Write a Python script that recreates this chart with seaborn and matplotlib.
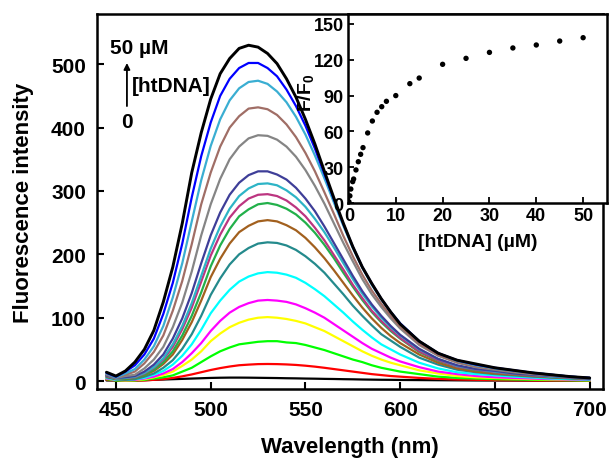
import pandas as pd
import matplotlib
matplotlib.use('Agg')
import matplotlib.pyplot as plt
import seaborn as sns

# emission wavelengths (nm) shared by all spectra
wavelength = [445, 450, 455, 460, 465, 470, 475, 480, 485, 490, 495, 500, 505, 510,
              515, 520, 525, 530, 535, 540, 545, 550, 555, 560, 565, 570, 575, 580,
              585, 590, 595, 600, 610, 620, 630, 640, 650, 660, 670, 680, 690, 700]

# spectra, from 50 uM htDNA (top) down to free dye
spec_50 = [14, 8, 16, 30, 50, 80, 125, 180, 249, 329, 392, 445, 485, 509, 525, 530, 527, 517,
           501, 477, 448, 413, 374, 331, 289, 249, 212, 180, 154, 130, 109, 90,
           63, 44, 33, 27, 21, 17, 13, 10, 7, 5]
spec_45 = [13, 7, 15, 25, 42, 67, 106, 155, 217, 290, 355, 408, 450, 477, 494, 502, 502, 494,
           481, 460, 434, 403, 367, 327, 287, 248, 212, 180, 154, 130, 109, 91,
           63, 44, 33, 26, 21, 17, 13, 10, 7, 5]
spec_40 = [12, 6, 12, 19, 34, 55, 87, 132, 186, 252, 317, 371, 413, 443, 462, 472, 474, 469,
           457, 440, 417, 389, 356, 320, 282, 245, 210, 179, 152, 129, 109, 91,
           63, 44, 32, 25, 20, 16, 13, 10, 7, 5]
spec_35 = [11, 6, 10, 15, 28, 46, 72, 111, 158, 216, 279, 329, 370, 400, 418, 430, 432, 429,
           420, 405, 385, 360, 331, 298, 264, 229, 197, 168, 143, 122, 103, 86,
           59, 41, 30, 23, 19, 15, 12, 9, 7, 5]
spec_30 = [10, 5, 8, 10, 20, 34, 54, 85, 124, 173, 230, 279, 319, 350, 370, 383, 388, 387,
           381, 370, 354, 333, 308, 280, 249, 218, 189, 161, 137, 117, 99, 83,
           57, 40, 29, 22, 18, 14, 11, 9, 6, 5]
spec_25 = [9, 5, 6, 8, 15, 26, 42, 67, 99, 139, 186, 230, 266, 294, 313, 325, 331, 331,
           326, 318, 305, 288, 268, 244, 218, 192, 166, 142, 121, 103, 87, 73,
           51, 35, 25, 19, 16, 12, 10, 8, 6, 4]
spec_20 = [9, 4, 5, 7, 13, 22, 36, 58, 87, 123, 166, 209, 244, 272, 292, 304, 311, 312,
           309, 301, 290, 275, 256, 235, 211, 186, 161, 138, 118, 100, 85, 72,
           50, 35, 24, 19, 15, 12, 10, 7, 6, 4]
spec_15 = [8, 4, 5, 6, 12, 21, 34, 54, 82, 116, 157, 198, 231, 258, 276, 288, 294, 295,
           292, 285, 274, 260, 242, 222, 199, 176, 152, 131, 111, 95, 81, 68,
           47, 33, 23, 18, 14, 11, 9, 7, 5, 4]
spec_10 = [8, 4, 4, 5, 10, 18, 30, 47, 72, 103, 140, 181, 214, 240, 260, 271, 279, 281,
           278, 272, 263, 250, 234, 215, 194, 171, 149, 128, 109, 93, 79, 67,
           46, 32, 23, 17, 14, 11, 9, 7, 5, 4]
spec_8 = [7, 3, 3, 5, 9, 16, 27, 42, 65, 93, 127, 164, 193, 217, 235, 245, 252, 254,
          252, 246, 238, 226, 211, 194, 175, 155, 135, 116, 99, 84, 71, 60,
          42, 29, 20, 15, 12, 10, 8, 6, 5, 3.5]
spec_6 = [6, 3, 2, 3, 7, 12, 21, 33, 51, 74, 103, 136, 162, 184, 200, 210, 217, 219,
          218, 214, 207, 197, 185, 171, 154, 137, 119, 103, 88, 74, 64, 54,
          37, 26, 18, 14, 11, 9, 7, 5.5, 4, 3]
spec_4 = [5, 2, 2, 3, 5, 10, 16, 26, 40, 58, 81, 107, 127, 144, 157, 165, 170, 172,
          171, 168, 163, 155, 145, 134, 121, 108, 94, 81, 69, 58, 50, 42,
          29, 20, 14, 11, 9, 7, 5.5, 4, 3, 2.4]
spec_3 = [4, 2, 1.5, 2, 4, 7, 12, 19, 30, 44, 60, 79, 95, 108, 117, 123, 127, 128,
          127, 125, 121, 115, 108, 100, 90, 80, 70, 60, 51, 44, 37, 31,
          22, 15, 11, 8, 6, 5, 4, 3, 2.4, 1.8]
spec_2 = [4, 2, 1, 1.5, 3, 6, 9.5, 15, 24, 34, 47, 63, 75, 85, 92, 97, 100, 101,
          100, 98, 95, 91, 85, 79, 71, 63, 55, 47, 40, 34, 29, 25,
          17, 12, 8, 6, 5, 4, 3, 2.5, 1.9, 1.4]
spec_1 = [3, 1, 0.8, 1, 2, 4, 6, 9, 15, 21, 30, 39, 47, 53, 58, 60, 62, 63,
          63, 61, 60, 57, 53, 49, 44, 39, 34, 30, 25, 21, 18, 15,
          11, 7, 5, 4, 3, 2.5, 2, 1.6, 1.2, 0.9]
spec_05 = [2, 1, 0.5, 0.5, 1, 2, 3, 5, 7.5, 10.5, 14, 17.5, 20.5, 23, 25, 26, 26.8, 27,
           26.8, 26.3, 25.5, 24.3, 22.8, 21, 19, 17, 15, 13, 11, 9.5, 8, 7,
           5, 3.5, 2.5, 2, 1.5, 1.2, 1, 0.8, 0.6, 0.5]
spec_0 = [1, 1, 1, 1.2, 1.5, 2, 2.5, 3, 3.5, 4, 4.5, 5, 5.3, 5.5, 5.5, 5.4, 5.2, 5,
          4.8, 4.5, 4.3, 4, 3.8, 3.5, 3.3, 3, 2.8, 2.5, 2.3, 2.1, 2, 1.8,
          1.6, 1.4, 1.2, 1, 0.9, 0.8, 0.7, 0.6, 0.5, 0.5]

spectra = [spec_0, spec_05, spec_1, spec_2, spec_3, spec_4, spec_6, spec_8, spec_10,
           spec_15, spec_20, spec_25, spec_30, spec_35, spec_40, spec_45, spec_50]
colors = ['#000000', '#FF0000', '#00FF00', '#FFFF00', '#FF00FF', '#00FFFF', '#248A8C',
          '#A2601E', '#22B04A', '#BC3580', '#2DB4C6', '#3E3E98', '#858585', '#A06E66',
          '#3AAED2', '#0000FF', '#000000']

# inset: F/F0 vs [htDNA]
conc = [0, 0.2, 0.4, 0.8, 1, 1.5, 2, 2.5, 3, 4, 5, 6, 7, 8, 10, 13, 15, 20, 25, 30, 35, 40, 45, 50]
f_ratio = [1, 6, 11.7, 17.9, 20.1, 27.7, 34.6, 40.8, 46.4, 58.7, 68.7, 76, 80.7, 85.2, 90,
           100, 104.7, 116.2, 121.2, 126.2, 129.9, 132.4, 135.7, 138.5]

sns.set_style('white')
plt.rcParams['font.family'] = ['Liberation Sans', 'DejaVu Sans']
plt.rcParams['font.weight'] = 'bold'
plt.rcParams['axes.labelweight'] = 'bold'
plt.rcParams['text.color'] = 'black'
plt.rcParams['axes.labelcolor'] = 'black'
plt.rcParams['xtick.color'] = 'black'
plt.rcParams['ytick.color'] = 'black'
plt.rcParams['mathtext.fontset'] = 'custom'
plt.rcParams['mathtext.rm'] = 'Liberation Sans:bold'
plt.rcParams['mathtext.it'] = 'Liberation Sans:bold'
plt.rcParams['mathtext.bf'] = 'Liberation Sans:bold'

fig = plt.figure(figsize=(6.1, 4.6), dpi=100)
ax = fig.add_axes([0.159, 0.152, 0.8295, 0.815])

for i, (spec, col) in enumerate(zip(spectra, colors)):
    df = pd.DataFrame({'wl': wavelength, 'F': spec})
    lw = 2.1 if i == len(spectra) - 1 else 1.6
    sns.lineplot(data=df, x='wl', y='F', color=col, lw=lw, ax=ax, zorder=2 + i)

ax.set_xlim(440, 707)
ax.set_ylim(-12.6, 579)
ax.set_xticks([450, 500, 550, 600, 650, 700])
ax.set_yticks([0, 100, 200, 300, 400, 500])
ax.set_xlabel('Wavelength (nm)', fontsize=16, fontweight='bold', labelpad=12)
ax.set_ylabel('Fluorescence intensity', fontsize=16, fontweight='bold', labelpad=12)
ax.tick_params(direction='in', length=5, width=1.5, labelsize=15, pad=8,
               left=True, bottom=True)
for sp in ax.spines.values():
    sp.set_linewidth(1.8)
    sp.set_color('black')

ax.text(446.8, 526, '50 \u00b5M', fontsize=15, fontweight='bold', ha='left', va='center')
ax.text(458.5, 467, '[htDNA]', fontsize=15, fontweight='bold', ha='left', va='center')
ax.text(456, 410, '0', fontsize=15, fontweight='bold', ha='center', va='center')
ax.annotate('', xy=(455.8, 502), xytext=(455.8, 434),
            arrowprops=dict(arrowstyle='-|>', color='black', lw=1.3,
                            mutation_scale=9, shrinkA=0, shrinkB=0))

# inset
axin = fig.add_axes([0.5705, 0.5565, 0.4246, 0.411])
axin.set_facecolor('white')
ins = pd.DataFrame({'conc': conc, 'ratio': f_ratio})
sns.scatterplot(data=ins, x='conc', y='ratio', color='black', s=15,
                edgecolor='none', ax=axin, zorder=3)
axin.set_xlim(-0.2, 55.1)
axin.set_ylim(0, 158.4)
axin.set_xticks([0, 10, 20, 30, 40, 50])
axin.set_yticks([0, 30, 60, 90, 120, 150])
axin.set_xlabel('[htDNA] (\u00b5M)', fontsize=14, fontweight='bold', labelpad=6)
axin.set_ylabel(r'F/F$_0$', fontsize=14, fontweight='bold')
axin.yaxis.set_label_coords(-0.125, 0.59)
axin.tick_params(direction='in', length=4, width=1.3, labelsize=13, pad=3,
                 left=True, bottom=True)
for sp in axin.spines.values():
    sp.set_linewidth(1.8)
    sp.set_color('black')

fig.savefig('out.png', dpi=100)
